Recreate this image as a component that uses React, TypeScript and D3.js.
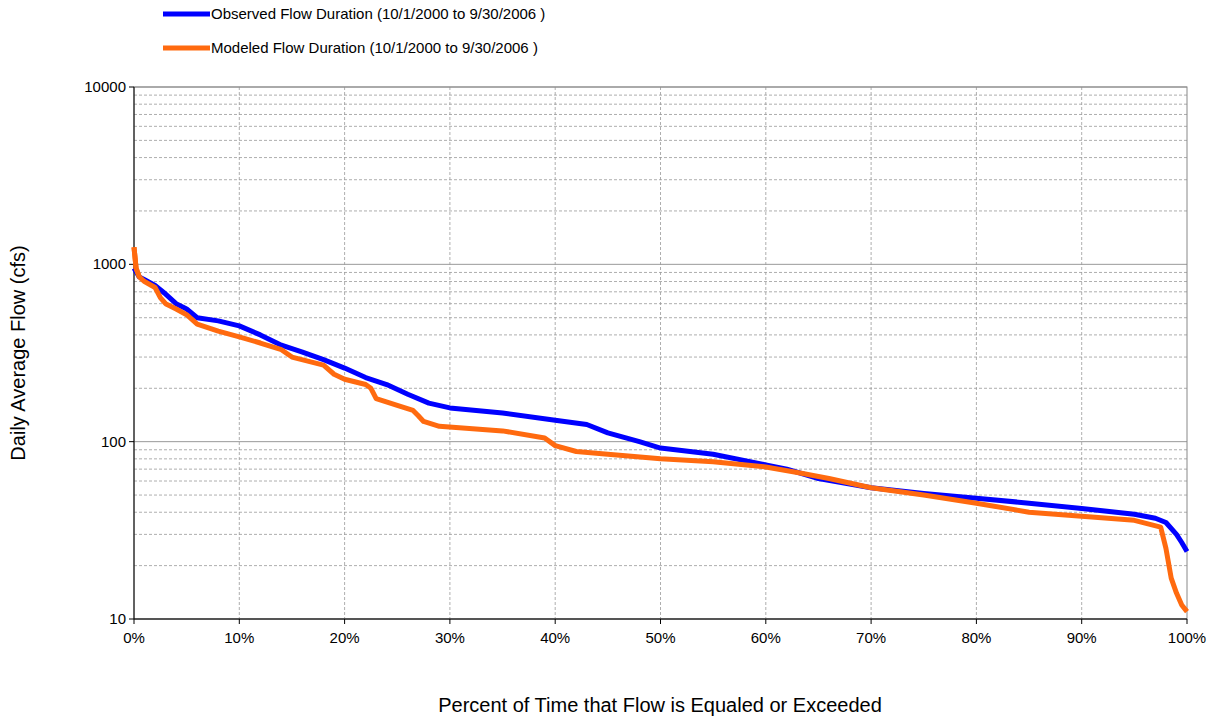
import React from "react";
import * as d3 from "d3";

const observedX = [0,0.5,1,2,3,4,5,6,8,10,12,14,16,18,20,22,24,26,28,30,35,40,43,45,48,50,55,60,62,65,70,75,80,85,90,95,97,98,99,99.5,100];
const observedY = [950,850,820,760,680,600,560,500,480,450,400,350,320,290,260,230,210,185,165,155,145,132,125,112,100,92,85,74,70,62,55,51,48,45,42,39,37,35,30,27,24];
const modeledX = [0,0.2,0.5,1,2,2.5,3,4,5,6,8,10,12,14,15,18,19,20,22,22.5,23,25,26.5,27,27.5,29,35,39,40,42,45,50,55,60,63,66,70,75,80,85,90,95,97.5,98,98.5,99,99.5,100];
const modeledY = [1250,950,850,800,740,650,600,560,520,460,420,390,360,330,300,270,240,225,210,200,175,160,150,140,130,122,115,105,95,88,85,80,77,72,67,62,55,50,45,40,38,36,33,25,17,14,12,11];
const xTicks = [0,10,20,30,40,50,60,70,80,90,100];
const yTicks = [10,100,1000,10000];
const legendLabels = ["Observed Flow Duration (10/1/2000 to 9/30/2006 )","Modeled Flow Duration (10/1/2000 to 9/30/2006 )"];
const colors = ["#0000ff", "#ff6a0f"];

export default function App() {
  const L = 134, R = 1187, T = 87, B = 619;
  const x = d3.scaleLinear().domain([0, 100]).range([L, R]);
  const y = d3.scaleLog().domain([10, 10000]).range([B, T]);
  const line = d3.line<[number, number]>().x(d => x(d[0])).y(d => y(d[1]));
  const minor: number[] = [];
  [10, 100, 1000].forEach(d => { for (let k = 2; k <= 9; k++) minor.push(d * k); });
  const series = [observedX.map((v, i) => [v, observedY[i]] as [number, number]), modeledX.map((v, i) => [v, modeledY[i]] as [number, number])];
  const font = "Arial, 'Liberation Sans', sans-serif";
  return (
    <svg width={1225} height={719} style={{ position: "absolute", left: 0, top: 0, fontFamily: font }}>
      <rect width={1225} height={719} fill="#fff" />
      {minor.map(v => <line key={"m" + v} x1={L} x2={R} y1={y(v)} y2={y(v)} stroke="#999" strokeDasharray="3,2" strokeWidth={0.8} />)}
      {xTicks.slice(1, -1).map(v => <line key={"v" + v} x1={x(v)} x2={x(v)} y1={T} y2={B} stroke="#999" strokeDasharray="3,2" strokeWidth={0.8} />)}
      {yTicks.map(v => <line key={"M" + v} x1={L} x2={R} y1={y(v)} y2={y(v)} stroke="#999" strokeWidth={1} />)}
      <rect x={L} y={T} width={R - L} height={B - T} fill="none" stroke="#888" />
      <line x1={L} x2={L} y1={T} y2={B} stroke="#000" />
      <line x1={L} x2={R} y1={B} y2={B} stroke="#000" />
      {yTicks.map(v => <g key={"yt" + v}>
        <line x1={L - 5} x2={L} y1={y(v)} y2={y(v)} stroke="#000" />
        <text x={L - 8} y={y(v) + 5} textAnchor="end" fontSize={15}>{v}</text>
      </g>)}
      {xTicks.map(v => <g key={"xt" + v}>
        <line x1={x(v)} x2={x(v)} y1={B} y2={B + 5} stroke="#000" />
        <text x={x(v)} y={B + 24} textAnchor="middle" fontSize={15}>{v + "%"}</text>
      </g>)}
      {series.map((s, i) => <path key={"s" + i} d={line(s) || ""} fill="none" stroke={colors[i]} strokeWidth={5} strokeLinejoin="round" />)}
      <path d={line(series[1].slice(0, 3)) || ""} fill="none" stroke={colors[1]} strokeWidth={5} />
      {legendLabels.map((t, i) => <g key={"lg" + i}>
        <line x1={163} x2={210} y1={14 + i * 34} y2={14 + i * 34} stroke={colors[i]} strokeWidth={5} />
        <text x={211} y={19 + i * 34} fontSize={15}>{t}</text>
      </g>)}
      <text transform="translate(25,353) rotate(-90)" textAnchor="middle" fontSize={20}>Daily Average Flow (cfs)</text>
      <text x={660} y={712} textAnchor="middle" fontSize={20}>Percent of Time that Flow is Equaled or Exceeded</text>
    </svg>
  );
}
